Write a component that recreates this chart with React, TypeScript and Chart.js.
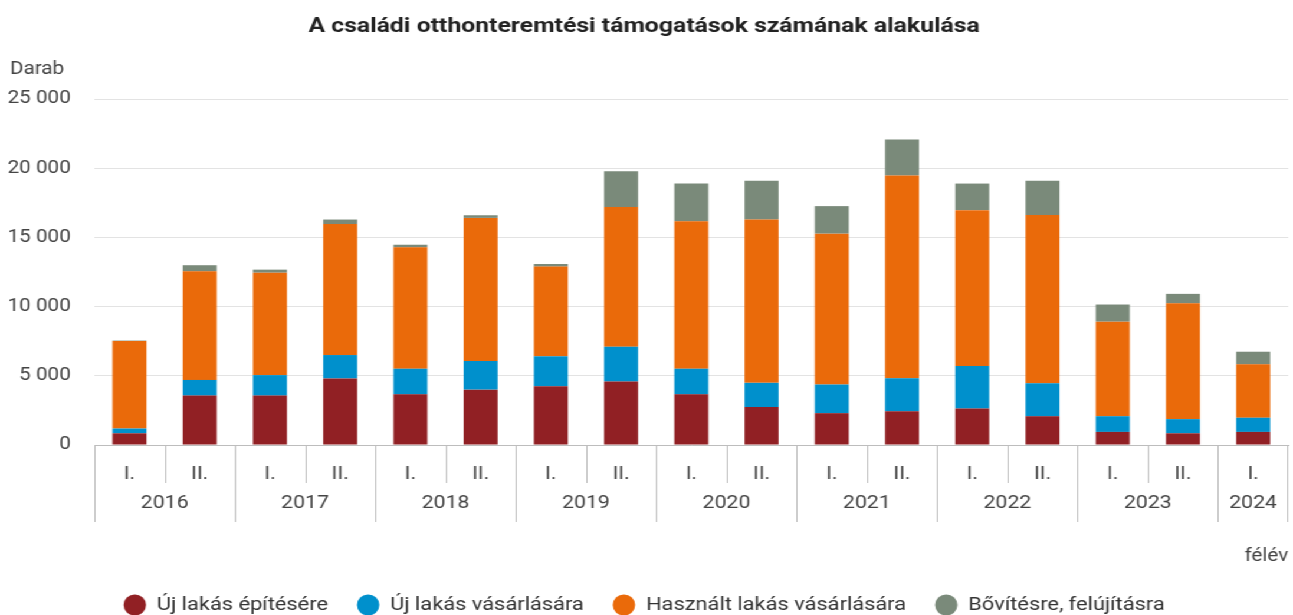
import React, { useEffect, useRef } from "react";
import { Chart, registerables } from "chart.js";

Chart.register(...registerables);

const halfYears = ["I.", "II.", "I.", "II.", "I.", "II.", "I.", "II.", "I.", "II.", "I.", "II.", "I.", "II.", "I.", "II.", "I."];
const years = ["2016", "2016", "2017", "2017", "2018", "2018", "2019", "2019", "2020", "2020", "2021", "2021", "2022", "2022", "2023", "2023", "2024"];

const ujEpites = [845, 3570, 3570, 4810, 3660, 4000, 4250, 4590, 3660, 2740, 2300, 2430, 2640, 2080, 945, 845, 945];
const ujVasarlas = [345, 1130, 1480, 1690, 1850, 2070, 2160, 2500, 1850, 1750, 2070, 2400, 3060, 2380, 1135, 1025, 1025];
const hasznaltVasarlas = [6330, 7850, 7400, 9470, 8770, 10340, 6480, 10100, 10660, 11800, 10900, 14640, 11270, 12150, 6830, 8370, 3860];
const bovites = [30, 440, 220, 320, 190, 190, 190, 2590, 2720, 2810, 1990, 2600, 1920, 2490, 1240, 680, 910];

const seriesNames = ["Új lakás építésére", "Új lakás vásárlására", "Használt lakás vásárlására", "Bővítésre, felújításra"];
const seriesColors = ["#912024", "#0090cc", "#ea6a0a", "#7a8a7a"];

const titleText = "A családi otthonteremtési támogatások számának alakulása";
const yUnit = "Darab";
const xUnit = "félév";

const FONT = "Roboto";
const TEXT = "#444444";
const STRETCH = 1293 / 1096;

function fmt(v: number): string {
  if (v >= 1000) return `${Math.floor(v / 1000)} ${String(v % 1000).padStart(3, "0")}`;
  return String(v);
}

const axisLabelsPlugin = {
  id: "axisLabels",
  afterDraw(chart: any) {
    const { ctx, scales, chartArea } = chart;
    const x = scales.x;
    const n = halfYears.length;
    const step = x.getPixelForValue(1) - x.getPixelForValue(0);
    const base = chartArea.bottom;
    ctx.save();
    ctx.fillStyle = TEXT;
    ctx.font = `17.5px ${FONT}`;
    ctx.textAlign = "left";
    ctx.textBaseline = "middle";
    ctx.fillText(yUnit, 8.5, 70);

    ctx.font = `18px ${FONT}`;
    ctx.strokeStyle = "#bdbdbd";
    ctx.lineWidth = 1;
    ctx.textAlign = "center";
    for (let i = 0; i < n; i++) {
      const c = x.getPixelForValue(i);
      ctx.fillText(halfYears[i], c, base + 29);
      const left = Math.round(c - step / 2) + 0.5;
      const newYear = i === 0 || years[i] !== years[i - 1];
      ctx.beginPath();
      ctx.moveTo(left, base);
      ctx.lineTo(left, base + (newYear ? 77 : 38));
      ctx.stroke();
    }
    const right = Math.round(x.getPixelForValue(n - 1) + step / 2) - 0.5;
    ctx.beginPath();
    ctx.moveTo(right, base);
    ctx.lineTo(right, base + 77);
    ctx.stroke();

    let start = 0;
    for (let i = 1; i <= n; i++) {
      if (i === n || years[i] !== years[start]) {
        const c = (x.getPixelForValue(start) + x.getPixelForValue(i - 1)) / 2;
        ctx.fillText(years[start], c, base + 58);
        start = i;
      }
    }
    ctx.restore();
  },
};

export default function App() {
  const ref = useRef<HTMLCanvasElement>(null);
  useEffect(() => {
    if (!ref.current) return;
    Chart.defaults.font.family = FONT;
    const labels = halfYears.map((h, i) => `${years[i]} ${h}`);
    const values = [ujEpites, ujVasarlas, hasznaltVasarlas, bovites];
    const chart = new Chart(ref.current, {
      type: "bar",
      data: {
        labels,
        datasets: values.map((d, k) => ({
          label: seriesNames[k],
          data: d,
          backgroundColor: seriesColors[k],
          borderWidth: 0,
          categoryPercentage: 1,
          barPercentage: 0.484,
        })),
      },
      plugins: [axisLabelsPlugin],
      options: {
        animation: false,
        responsive: true,
        maintainAspectRatio: false,
        layout: { padding: { left: 0, right: 4, top: 0, bottom: -9.25 } },
        plugins: {
          title: {
            display: true,
            text: titleText,
            color: "#222222",
            font: { family: FONT, size: 21, weight: "bold" },
            padding: { top: 14, bottom: 59.8 },
          },
          legend: {
            position: "bottom",
            labels: {
              usePointStyle: true,
              pointStyle: "circle",
              boxHeight: 14.85,
              pointStyleWidth: 19,
              padding: 24.5,
              color: "#333333",
              font: { family: FONT, size: 18.5 },
            },
          },
          tooltip: { enabled: false },
        },
        scales: {
          x: {
            stacked: true,
            grid: { display: false, drawTicks: false },
            border: { display: true, color: "#bdbdbd" },
            ticks: { display: false },
            title: {
              display: true,
              text: xUnit,
              align: "end",
              color: TEXT,
              font: { family: FONT, size: 17.5, lineHeight: 1.2 },
              padding: { top: 101.5, bottom: 3.75 },
            },
          },
          y: {
            stacked: true,
            min: 0,
            max: 25000,
            afterFit: (s: any) => {
              s.width = 80;
            },
            grid: { color: "#e3e3e3", drawTicks: false },
            border: { display: false },
            ticks: {
              stepSize: 5000,
              padding: 20,
              color: TEXT,
              font: { family: FONT, size: 17.5 },
              callback: (v: any) => fmt(Number(v)),
            },
          },
        },
      },
    });
    return () => chart.destroy();
  }, []);
  return (
    <div
      style={{
        position: "fixed",
        left: 0,
        top: 0,
        width: 1096,
        height: 615,
        background: "#fff",
        transform: `scaleX(${STRETCH})`,
        transformOrigin: "0 0",
      }}
    >
      <canvas ref={ref} />
    </div>
  );
}
